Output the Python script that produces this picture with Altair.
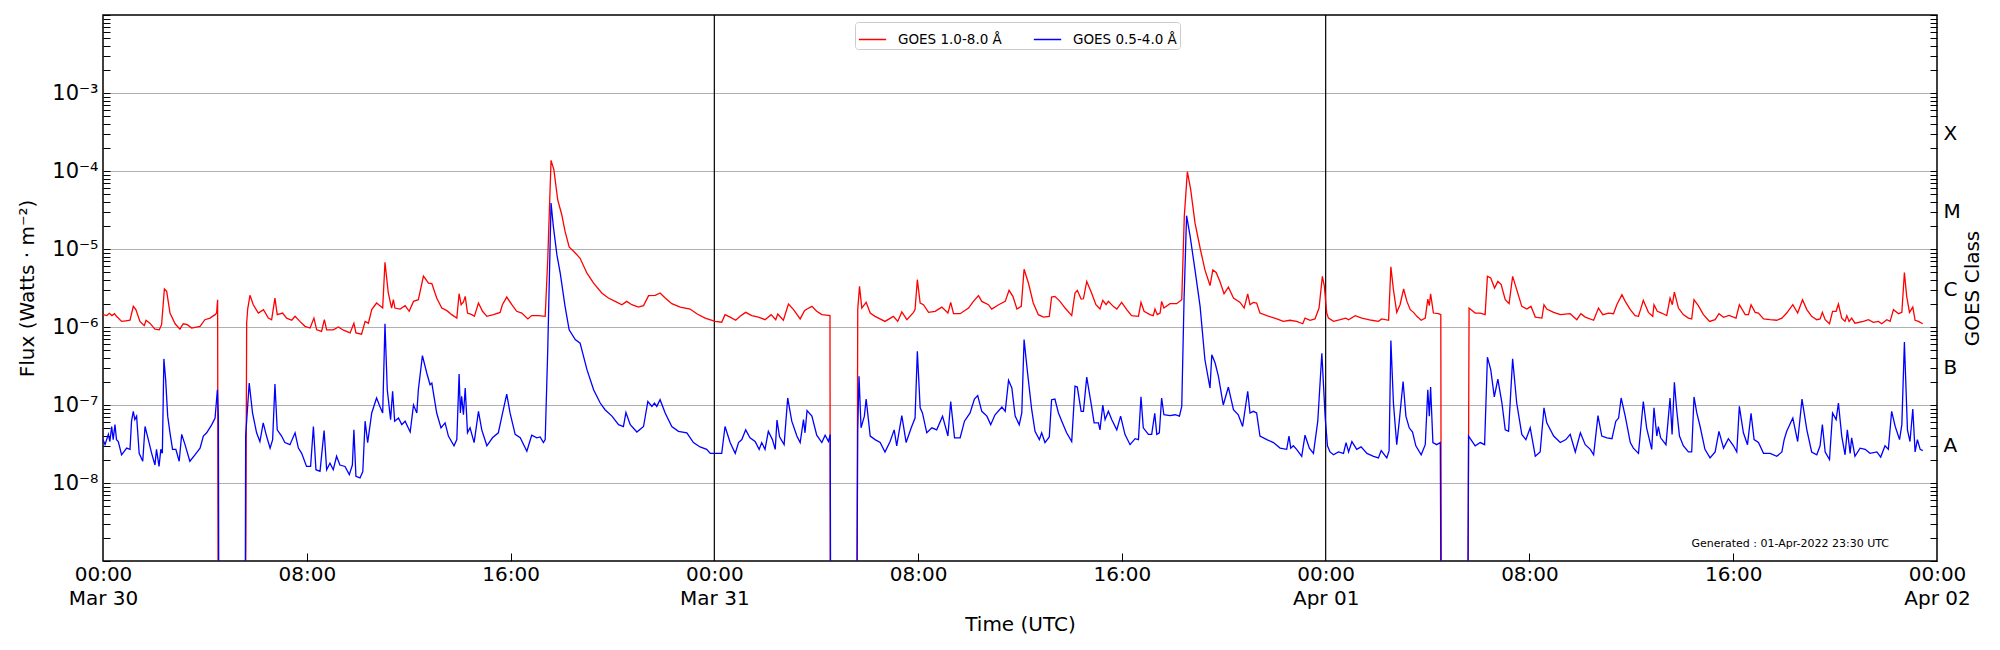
import json
import altair as alt
import pandas as pd

# ---------------- data (hours since 2022-03-30 00:00 UTC, flux W/m^2)
# 1e-12 marks the eclipse drop-outs that fall below the plotted range
red_readings = [
    (0.00, 1.44e-6), (0.15, 1.40e-6), (0.25, 1.50e-6), (0.35, 1.40e-6), (0.45, 1.48e-6),
    (0.53, 1.37e-6), (0.73, 1.18e-6), (0.90, 1.20e-6), (1.06, 1.22e-6), (1.19, 1.84e-6),
    (1.29, 1.67e-6), (1.45, 1.18e-6), (1.62, 1.04e-6), (1.69, 1.22e-6), (1.84, 1.12e-6),
    (2.04, 0.94e-6), (2.21, 0.92e-6), (2.30, 1.07e-6), (2.41, 3.07e-6), (2.50, 2.86e-6),
    (2.63, 1.51e-6), (2.83, 1.10e-6), (3.02, 0.94e-6), (3.15, 1.10e-6), (3.31, 1.07e-6),
    (3.48, 0.97e-6), (3.81, 1.02e-6), (4.00, 1.24e-6), (4.20, 1.30e-6), (4.40, 1.44e-6),
    (4.46, 1.51e-6), (4.50, 2.24e-6), (4.53, 1e-12), (5.57, 1e-12), (5.64, 1.12e-6),
    (5.68, 1.70e-6), (5.77, 2.55e-6), (5.90, 1.93e-6), (6.10, 1.51e-6), (6.30, 1.67e-6),
    (6.49, 1.30e-6), (6.62, 1.24e-6), (6.75, 2.35e-6), (6.84, 1.44e-6), (7.05, 1.51e-6),
    (7.21, 1.30e-6), (7.41, 1.22e-6), (7.54, 1.37e-6), (7.73, 1.18e-6), (7.93, 1.02e-6),
    (8.13, 0.97e-6), (8.28, 1.30e-6), (8.39, 0.92e-6), (8.58, 0.88e-6), (8.69, 1.24e-6),
    (8.78, 0.92e-6), (9.04, 0.92e-6), (9.24, 1.00e-6), (9.44, 0.91e-6), (9.70, 0.84e-6),
    (9.85, 1.12e-6), (9.93, 0.84e-6), (10.15, 0.81e-6), (10.29, 1.18e-6), (10.42, 1.12e-6),
    (10.55, 1.67e-6), (10.74, 2.03e-6), (10.98, 1.75e-6), (11.07, 6.75e-6), (11.20, 2.73e-6),
    (11.33, 1.75e-6), (11.40, 2.24e-6), (11.46, 1.75e-6), (11.66, 1.70e-6), (11.86, 1.88e-6),
    (12.02, 1.59e-6), (12.19, 2.13e-6), (12.38, 2.24e-6), (12.58, 4.50e-6), (12.78, 3.66e-6),
    (12.91, 3.60e-6), (13.10, 2.35e-6), (13.30, 1.75e-6), (13.50, 1.62e-6), (13.69, 1.44e-6),
    (13.89, 1.30e-6), (13.98, 2.67e-6), (14.06, 1.93e-6), (14.15, 2.10e-6), (14.22, 2.47e-6),
    (14.31, 1.51e-6), (14.48, 1.44e-6), (14.58, 1.37e-6), (14.74, 2.03e-6), (14.90, 1.59e-6),
    (15.07, 1.37e-6), (15.33, 1.44e-6), (15.59, 1.54e-6), (15.68, 1.93e-6), (15.85, 2.42e-6),
    (16.05, 1.93e-6), (16.24, 1.59e-6), (16.44, 1.51e-6), (16.68, 1.27e-6), (16.83, 1.40e-6),
    (17.10, 1.40e-6), (17.36, 1.37e-6), (17.46, 7.30e-6), (17.59, 1.37e-4), (17.70, 1.04e-4),
    (17.85, 4.30e-5), (18.01, 2.75e-5), (18.14, 1.68e-5), (18.30, 1.06e-5), (18.54, 8.90e-6),
    (18.73, 7.60e-6), (19.00, 4.90e-6), (19.26, 3.66e-6), (19.58, 2.73e-6), (19.84, 2.35e-6),
    (20.11, 2.13e-6), (20.37, 1.93e-6), (20.56, 2.13e-6), (20.76, 1.93e-6), (21.02, 1.80e-6),
    (21.22, 1.88e-6), (21.42, 2.52e-6), (21.68, 2.55e-6), (21.87, 2.73e-6), (22.07, 2.35e-6),
    (22.33, 1.99e-6), (22.66, 1.80e-6), (23.05, 1.70e-6), (23.31, 1.48e-6), (23.64, 1.30e-6),
    (24.03, 1.18e-6), (24.29, 1.15e-6), (24.42, 1.44e-6), (24.62, 1.34e-6), (24.84, 1.22e-6),
    (25.01, 1.37e-6), (25.23, 1.54e-6), (25.47, 1.40e-6), (25.73, 1.34e-6), (25.99, 1.24e-6),
    (26.23, 1.44e-6), (26.41, 1.24e-6), (26.49, 1.47e-6), (26.71, 1.22e-6), (26.91, 1.97e-6),
    (27.11, 1.67e-6), (27.37, 1.27e-6), (27.54, 1.62e-6), (27.64, 1.70e-6), (27.83, 1.84e-6),
    (28.02, 1.59e-6), (28.22, 1.44e-6), (28.48, 1.41e-6), (28.54, 1.40e-6), (28.56, 1e-12),
    (29.58, 1e-12), (29.63, 1.67e-6), (29.70, 3.32e-6), (29.79, 1.75e-6), (29.96, 2.07e-6),
    (30.12, 1.51e-6), (30.31, 1.37e-6), (30.70, 1.18e-6), (31.03, 1.37e-6), (31.20, 1.18e-6),
    (31.36, 1.56e-6), (31.56, 1.24e-6), (31.82, 1.54e-6), (31.88, 1.67e-6), (31.97, 4.04e-6),
    (32.08, 2.03e-6), (32.21, 1.93e-6), (32.41, 1.54e-6), (32.67, 1.59e-6), (32.93, 1.80e-6),
    (33.17, 1.51e-6), (33.28, 2.07e-6), (33.39, 1.48e-6), (33.65, 1.48e-6), (33.98, 1.75e-6),
    (34.17, 2.13e-6), (34.37, 2.52e-6), (34.50, 2.13e-6), (34.76, 1.93e-6), (34.89, 1.70e-6),
    (35.16, 1.93e-6), (35.42, 2.13e-6), (35.57, 2.95e-6), (35.72, 2.47e-6), (35.88, 1.70e-6),
    (36.05, 1.84e-6), (36.16, 5.50e-6), (36.33, 3.66e-6), (36.52, 2.03e-6), (36.72, 1.44e-6),
    (36.92, 1.34e-6), (37.15, 1.37e-6), (37.24, 2.42e-6), (37.37, 2.47e-6), (37.57, 2.13e-6),
    (37.77, 1.75e-6), (38.03, 1.40e-6), (38.16, 2.73e-6), (38.25, 2.95e-6), (38.40, 2.28e-6),
    (38.49, 2.30e-6), (38.62, 3.84e-6), (38.81, 2.73e-6), (38.98, 1.93e-6), (39.14, 1.70e-6),
    (39.25, 2.20e-6), (39.38, 1.93e-6), (39.47, 2.13e-6), (39.66, 1.84e-6), (39.80, 1.70e-6),
    (39.99, 2.07e-6), (40.19, 1.67e-6), (40.38, 1.40e-6), (40.65, 1.37e-6), (40.75, 2.07e-6),
    (40.87, 1.59e-6), (41.10, 1.44e-6), (41.23, 1.40e-6), (41.30, 1.70e-6), (41.39, 1.44e-6),
    (41.50, 1.51e-6), (41.56, 2.13e-6), (41.65, 1.75e-6), (41.89, 1.99e-6), (42.15, 1.99e-6),
    (42.35, 2.24e-6), (42.45, 2.62e-5), (42.57, 9.80e-5), (42.70, 5.80e-5), (42.87, 2.16e-5),
    (43.07, 1.03e-5), (43.26, 5.40e-6), (43.46, 3.40e-6), (43.57, 5.40e-6), (43.70, 5.00e-6),
    (43.85, 3.84e-6), (44.01, 2.67e-6), (44.18, 3.25e-6), (44.38, 2.35e-6), (44.64, 2.07e-6),
    (44.80, 1.75e-6), (44.94, 2.65e-6), (45.03, 1.93e-6), (45.16, 2.07e-6), (45.29, 2.03e-6),
    (45.42, 1.51e-6), (45.69, 1.40e-6), (46.08, 1.27e-6), (46.34, 1.18e-6), (46.60, 1.22e-6),
    (46.86, 1.18e-6), (47.10, 1.10e-6), (47.19, 1.30e-6), (47.39, 1.22e-6), (47.58, 1.27e-6),
    (47.74, 1.75e-6), (47.87, 4.46e-6), (47.95, 3.32e-6), (48.04, 1.51e-6), (48.11, 1.30e-6),
    (48.31, 1.18e-6), (48.57, 1.24e-6), (48.79, 1.30e-6), (48.90, 1.24e-6), (49.16, 1.40e-6),
    (49.42, 1.30e-6), (49.81, 1.22e-6), (50.07, 1.18e-6), (50.20, 1.27e-6), (50.47, 1.22e-6),
    (50.56, 5.90e-6), (50.66, 3.01e-6), (50.79, 1.54e-6), (50.92, 1.93e-6), (51.06, 3.07e-6),
    (51.19, 2.13e-6), (51.32, 1.67e-6), (51.45, 1.54e-6), (51.58, 1.37e-6), (51.75, 1.22e-6),
    (51.91, 1.30e-6), (52.01, 2.28e-6), (52.07, 1.88e-6), (52.12, 2.67e-6), (52.23, 1.51e-6),
    (52.43, 1.48e-6), (52.52, 1.44e-6), (52.55, 1e-12), (53.56, 1e-12), (53.63, 1.75e-6),
    (53.87, 1.51e-6), (54.07, 1.51e-6), (54.26, 1.44e-6), (54.35, 4.46e-6), (54.48, 4.25e-6),
    (54.63, 3.16e-6), (54.76, 3.84e-6), (54.89, 3.50e-6), (55.05, 2.24e-6), (55.20, 1.99e-6),
    (55.34, 4.46e-6), (55.50, 3.01e-6), (55.70, 1.84e-6), (55.90, 1.70e-6), (56.06, 1.84e-6),
    (56.23, 1.34e-6), (56.49, 1.30e-6), (56.57, 1.93e-6), (56.68, 1.70e-6), (56.95, 1.54e-6),
    (57.21, 1.44e-6), (57.60, 1.48e-6), (57.86, 1.24e-6), (58.02, 1.48e-6), (58.19, 1.34e-6),
    (58.52, 1.22e-6), (58.71, 1.75e-6), (58.88, 1.44e-6), (59.11, 1.51e-6), (59.30, 1.48e-6),
    (59.43, 1.93e-6), (59.63, 2.60e-6), (59.76, 2.13e-6), (59.96, 1.67e-6), (60.15, 1.40e-6),
    (60.28, 1.37e-6), (60.47, 2.20e-6), (60.67, 1.54e-6), (60.84, 1.37e-6), (60.89, 1.93e-6),
    (61.02, 1.59e-6), (61.19, 1.51e-6), (61.39, 1.40e-6), (61.52, 2.35e-6), (61.61, 1.93e-6),
    (61.69, 2.80e-6), (61.85, 1.75e-6), (62.04, 1.44e-6), (62.24, 1.30e-6), (62.37, 1.27e-6),
    (62.46, 2.24e-6), (62.63, 1.88e-6), (62.83, 1.44e-6), (63.07, 1.18e-6), (63.29, 1.24e-6),
    (63.44, 1.48e-6), (63.62, 1.33e-6), (63.84, 1.41e-6), (64.11, 1.30e-6), (64.24, 1.93e-6),
    (64.47, 1.44e-6), (64.60, 1.44e-6), (64.70, 1.93e-6), (64.86, 1.54e-6), (64.99, 1.51e-6),
    (65.19, 1.27e-6), (65.45, 1.24e-6), (65.71, 1.22e-6), (65.91, 1.30e-6), (66.10, 1.51e-6),
    (66.34, 1.93e-6), (66.53, 1.51e-6), (66.72, 2.24e-6), (66.89, 1.67e-6), (67.08, 1.37e-6),
    (67.28, 1.24e-6), (67.41, 1.27e-6), (67.50, 1.54e-6), (67.61, 1.24e-6), (67.78, 1.10e-6),
    (67.90, 1.59e-6), (68.04, 1.59e-6), (68.13, 1.97e-6), (68.26, 1.30e-6), (68.39, 1.18e-6),
    (68.46, 1.40e-6), (68.55, 1.18e-6), (68.65, 1.30e-6), (68.78, 1.12e-6), (69.11, 1.18e-6),
    (69.31, 1.24e-6), (69.50, 1.15e-6), (69.70, 1.18e-6), (69.83, 1.10e-6), (70.03, 1.24e-6),
    (70.16, 1.18e-6), (70.29, 1.67e-6), (70.49, 1.48e-6), (70.62, 1.54e-6), (70.72, 5.00e-6),
    (70.81, 2.47e-6), (70.92, 1.54e-6), (71.05, 1.80e-6), (71.14, 1.22e-6), (71.27, 1.18e-6),
    (71.44, 1.10e-6),
]

blue_readings = [
    (0.00, 3.6e-8), (0.08, 3.1e-8), (0.21, 4.2e-8), (0.27, 3.4e-8), (0.34, 5.3e-8),
    (0.40, 3.6e-8), (0.47, 5.6e-8), (0.53, 3.6e-8), (0.60, 3.4e-8), (0.73, 2.3e-8),
    (0.93, 2.8e-8), (1.06, 2.7e-8), (1.12, 6.2e-8), (1.19, 8.3e-8), (1.25, 6.5e-8),
    (1.32, 7.2e-8), (1.42, 2.4e-8), (1.56, 1.9e-8), (1.65, 5.3e-8), (1.78, 3.6e-8),
    (1.91, 2.4e-8), (2.04, 1.7e-8), (2.10, 2.7e-8), (2.20, 1.63e-8), (2.27, 2.7e-8),
    (2.33, 2.4e-8), (2.39, 3.9e-7), (2.46, 2.1e-7), (2.54, 7.2e-8), (2.63, 4.4e-8),
    (2.73, 2.7e-8), (2.86, 2.7e-8), (2.99, 1.9e-8), (3.09, 4.2e-8), (3.22, 3.1e-8),
    (3.41, 1.9e-8), (3.61, 2.3e-8), (3.81, 2.8e-8), (3.94, 4.0e-8), (4.07, 4.4e-8),
    (4.27, 5.6e-8), (4.40, 6.8e-8), (4.49, 1.57e-7), (4.53, 7.2e-8), (4.56, 1e-12),
    (5.57, 1e-12), (5.60, 4.0e-8), (5.74, 1.91e-7), (5.87, 7.9e-8), (6.03, 4.4e-8),
    (6.16, 3.4e-8), (6.29, 5.9e-8), (6.42, 4.0e-8), (6.56, 2.8e-8), (6.66, 3.6e-8),
    (6.75, 1.86e-7), (6.84, 4.8e-8), (7.01, 4.0e-8), (7.14, 3.3e-8), (7.34, 3.1e-8),
    (7.54, 4.4e-8), (7.67, 2.8e-8), (7.80, 2.4e-8), (7.99, 1.63e-8), (8.15, 1.63e-8),
    (8.26, 5.3e-8), (8.36, 1.48e-8), (8.52, 1.41e-8), (8.68, 4.7e-8), (8.78, 1.48e-8),
    (8.91, 1.8e-8), (9.04, 1.48e-8), (9.17, 2.2e-8), (9.30, 1.7e-8), (9.50, 1.63e-8),
    (9.67, 1.28e-8), (9.79, 1.7e-8), (9.85, 4.8e-8), (9.93, 1.22e-8), (10.09, 1.16e-8),
    (10.20, 1.4e-8), (10.29, 6.2e-8), (10.39, 3.3e-8), (10.55, 7.9e-8), (10.74, 1.23e-7),
    (10.87, 9.6e-8), (10.98, 7.9e-8), (11.07, 1.1e-6), (11.16, 1.57e-7), (11.29, 6.5e-8),
    (11.37, 1.5e-7), (11.45, 6.2e-8), (11.60, 6.8e-8), (11.73, 5.6e-8), (11.86, 6.2e-8),
    (12.06, 4.5e-8), (12.19, 1.0e-7), (12.32, 7.9e-8), (12.38, 1.57e-7), (12.54, 4.3e-7),
    (12.71, 2.57e-7), (12.84, 1.82e-7), (12.91, 1.91e-7), (13.10, 7.9e-8), (13.27, 5.1e-8),
    (13.43, 5.9e-8), (13.56, 4.0e-8), (13.78, 3.0e-8), (13.89, 3.6e-8), (13.98, 2.5e-7),
    (14.03, 7.9e-8), (14.08, 1.29e-7), (14.15, 7.5e-8), (14.22, 1.65e-7), (14.31, 4.4e-8),
    (14.41, 5.1e-8), (14.57, 3.3e-8), (14.74, 8.3e-8), (14.87, 4.8e-8), (15.07, 3.0e-8),
    (15.29, 3.8e-8), (15.52, 4.4e-8), (15.66, 7.2e-8), (15.85, 1.38e-7), (15.98, 7.9e-8),
    (16.18, 4.2e-8), (16.38, 3.8e-8), (16.64, 2.55e-8), (16.83, 4.1e-8), (17.03, 3.8e-8),
    (17.16, 3.9e-8), (17.29, 3.3e-8), (17.36, 3.6e-8), (17.46, 5.1e-7), (17.59, 3.89e-5),
    (17.68, 1.95e-5), (17.82, 8.4e-6), (17.95, 4.9e-6), (18.14, 1.84e-6), (18.30, 9.2e-7),
    (18.54, 6.9e-7), (18.73, 6.2e-7), (19.00, 2.84e-7), (19.26, 1.57e-7), (19.52, 1.06e-7),
    (19.71, 8.7e-8), (19.98, 7.2e-8), (20.24, 5.6e-8), (20.43, 5.3e-8), (20.53, 8.0e-8),
    (20.70, 5.6e-8), (20.96, 4.5e-8), (21.22, 5.3e-8), (21.39, 1.11e-7), (21.55, 9.6e-8),
    (21.65, 1.06e-7), (21.74, 9.6e-8), (21.87, 1.17e-7), (22.07, 7.9e-8), (22.33, 5.3e-8),
    (22.59, 4.6e-8), (22.92, 4.4e-8), (23.18, 3.3e-8), (23.44, 2.9e-8), (23.70, 2.7e-8),
    (23.84, 2.4e-8), (24.03, 2.4e-8), (24.29, 2.4e-8), (24.42, 5.3e-8), (24.62, 3.3e-8),
    (24.82, 2.4e-8), (24.95, 3.3e-8), (25.08, 3.6e-8), (25.23, 4.8e-8), (25.40, 3.8e-8),
    (25.60, 3.4e-8), (25.76, 2.7e-8), (25.86, 3.3e-8), (25.99, 2.7e-8), (26.12, 4.6e-8),
    (26.28, 3.6e-8), (26.39, 2.7e-8), (26.46, 6.4e-8), (26.56, 3.9e-8), (26.74, 3.1e-8),
    (26.88, 1.23e-7), (27.04, 6.2e-8), (27.24, 4.0e-8), (27.37, 3.3e-8), (27.50, 6.5e-8),
    (27.56, 4.4e-8), (27.64, 8.5e-8), (27.83, 7.2e-8), (28.02, 4.1e-8), (28.22, 3.3e-8),
    (28.35, 4.1e-8), (28.48, 3.4e-8), (28.55, 4.2e-8), (28.58, 1e-12), (29.56, 1e-12),
    (29.63, 4.9e-8), (29.68, 2.33e-7), (29.76, 5.1e-8), (29.89, 7.2e-8), (29.96, 1.19e-7),
    (30.12, 4.0e-8), (30.31, 3.6e-8), (30.51, 3.3e-8), (30.70, 2.5e-8), (30.90, 3.4e-8),
    (31.06, 4.8e-8), (31.16, 3.0e-8), (31.36, 7.3e-8), (31.53, 3.3e-8), (31.73, 5.1e-8),
    (31.88, 6.8e-8), (31.97, 4.9e-7), (32.08, 9.2e-8), (32.17, 7.9e-8), (32.34, 4.4e-8),
    (32.54, 5.1e-8), (32.73, 4.8e-8), (32.96, 7.2e-8), (33.17, 4.0e-8), (33.28, 1.11e-7),
    (33.43, 3.8e-8), (33.65, 3.8e-8), (33.82, 6.2e-8), (34.04, 7.9e-8), (34.21, 1.19e-7),
    (34.34, 1.32e-7), (34.50, 8.3e-8), (34.70, 7.2e-8), (34.85, 5.6e-8), (35.02, 7.5e-8),
    (35.29, 9.4e-8), (35.42, 8.3e-8), (35.55, 2.07e-7), (35.68, 1.65e-7), (35.81, 7.2e-8),
    (35.97, 5.6e-8), (36.07, 7.9e-8), (36.16, 6.9e-7), (36.29, 2.7e-7), (36.46, 8.7e-8),
    (36.59, 4.6e-8), (36.76, 3.6e-8), (36.85, 4.4e-8), (36.98, 3.3e-8), (37.15, 3.9e-8),
    (37.24, 1.17e-7), (37.37, 1.19e-7), (37.51, 7.9e-8), (37.64, 6.2e-8), (37.83, 4.4e-8),
    (38.03, 3.4e-8), (38.16, 1.74e-7), (38.25, 1.7e-7), (38.40, 8.3e-8), (38.49, 8.3e-8),
    (38.62, 2.28e-7), (38.81, 9.6e-8), (38.91, 5.9e-8), (39.08, 5.9e-8), (39.14, 4.8e-8),
    (39.25, 1.0e-7), (39.34, 6.5e-8), (39.47, 8.3e-8), (39.60, 6.5e-8), (39.80, 4.8e-8),
    (39.95, 7.2e-8), (40.12, 4.2e-8), (40.32, 3.1e-8), (40.52, 3.7e-8), (40.65, 3.6e-8),
    (40.75, 1.27e-7), (40.84, 5.1e-8), (41.04, 4.2e-8), (41.17, 4.2e-8), (41.29, 7.8e-8),
    (41.37, 4.2e-8), (41.47, 4.4e-8), (41.56, 1.23e-7), (41.65, 7.5e-8), (41.89, 7.3e-8),
    (42.09, 7.5e-8), (42.26, 7.2e-8), (42.35, 9.6e-8), (42.44, 2.24e-6), (42.54, 2.67e-5),
    (42.68, 1.45e-5), (42.87, 5.4e-6), (43.07, 1.84e-6), (43.26, 3.8e-7), (43.46, 1.65e-7),
    (43.53, 4.4e-7), (43.66, 3.45e-7), (43.79, 2.33e-7), (43.98, 1.0e-7), (44.18, 1.7e-7),
    (44.38, 8.7e-8), (44.57, 7.5e-8), (44.74, 5.3e-8), (44.94, 1.5e-7), (45.03, 7.9e-8),
    (45.16, 8.3e-8), (45.29, 7.9e-8), (45.42, 4.0e-8), (45.69, 3.6e-8), (45.95, 3.3e-8),
    (46.21, 2.8e-8), (46.47, 2.7e-8), (46.56, 4.0e-8), (46.63, 2.8e-8), (46.73, 3.0e-8),
    (46.86, 2.7e-8), (47.06, 2.2e-8), (47.19, 4.1e-8), (47.36, 2.8e-8), (47.52, 2.4e-8),
    (47.69, 6.2e-8), (47.85, 4.6e-7), (47.98, 7.0e-8), (48.07, 3.0e-8), (48.17, 2.5e-8),
    (48.31, 2.3e-8), (48.50, 2.5e-8), (48.70, 2.4e-8), (48.80, 3.3e-8), (48.90, 2.5e-8),
    (49.03, 3.4e-8), (49.22, 2.7e-8), (49.39, 2.9e-8), (49.62, 2.4e-8), (49.88, 2.2e-8),
    (50.07, 2.1e-8), (50.18, 2.6e-8), (50.40, 2.1e-8), (50.49, 2.6e-8), (50.56, 6.7e-7),
    (50.66, 1.06e-7), (50.79, 3.1e-8), (50.89, 6.2e-8), (51.04, 2.0e-7), (51.15, 7.2e-8),
    (51.28, 5.1e-8), (51.41, 4.5e-8), (51.54, 3.0e-8), (51.75, 2.3e-8), (51.91, 3.1e-8),
    (52.01, 1.57e-7), (52.07, 7.2e-8), (52.12, 1.7e-7), (52.21, 3.3e-8), (52.36, 3.1e-8),
    (52.50, 3.3e-8), (52.56, 1e-12), (53.55, 1e-12), (53.61, 4.0e-8), (53.87, 3.0e-8),
    (54.07, 3.3e-8), (54.24, 3.1e-8), (54.35, 4.1e-7), (54.48, 2.84e-7), (54.62, 1.27e-7),
    (54.76, 2.15e-7), (54.92, 1.06e-7), (55.05, 4.8e-8), (55.18, 4.6e-8), (55.34, 3.9e-7),
    (55.50, 1.06e-7), (55.70, 4.2e-8), (55.86, 3.6e-8), (56.03, 5.1e-8), (56.23, 2.2e-8),
    (56.42, 2.5e-8), (56.57, 9.2e-8), (56.68, 5.9e-8), (56.95, 4.0e-8), (57.21, 3.3e-8),
    (57.43, 3.6e-8), (57.60, 4.2e-8), (57.80, 2.5e-8), (58.00, 4.4e-8), (58.19, 3.1e-8),
    (58.39, 2.7e-8), (58.52, 2.3e-8), (58.69, 7.3e-8), (58.84, 4.0e-8), (59.04, 3.8e-8),
    (59.24, 3.7e-8), (59.39, 6.2e-8), (59.50, 6.8e-8), (59.60, 1.23e-7), (59.76, 7.2e-8),
    (59.96, 3.3e-8), (60.08, 2.8e-8), (60.28, 2.4e-8), (60.47, 1.11e-7), (60.60, 5.1e-8),
    (60.80, 2.7e-8), (60.89, 9.2e-8), (61.00, 4.0e-8), (61.06, 5.3e-8), (61.15, 3.8e-8),
    (61.36, 3.1e-8), (61.52, 1.23e-7), (61.60, 4.2e-8), (61.69, 1.95e-7), (61.78, 8.7e-8),
    (61.89, 4.0e-8), (62.04, 3.0e-8), (62.24, 2.5e-8), (62.37, 2.5e-8), (62.46, 1.27e-7),
    (62.57, 7.9e-8), (62.70, 5.3e-8), (62.89, 2.7e-8), (63.09, 2.1e-8), (63.29, 2.5e-8),
    (63.44, 4.6e-8), (63.62, 2.8e-8), (63.81, 3.7e-8), (64.01, 3.0e-8), (64.14, 2.5e-8),
    (64.24, 9.6e-8), (64.40, 4.4e-8), (64.56, 3.1e-8), (64.70, 7.8e-8), (64.82, 3.6e-8),
    (64.99, 3.3e-8), (65.19, 2.4e-8), (65.45, 2.4e-8), (65.71, 2.2e-8), (65.91, 2.5e-8),
    (66.00, 3.6e-8), (66.10, 4.6e-8), (66.34, 6.8e-8), (66.53, 3.4e-8), (66.70, 1.19e-7),
    (66.89, 4.8e-8), (67.08, 2.5e-8), (67.28, 2.3e-8), (67.41, 3.0e-8), (67.50, 5.6e-8),
    (67.61, 2.5e-8), (67.78, 2.0e-8), (67.90, 7.9e-8), (68.04, 6.5e-8), (68.13, 1.06e-7),
    (68.26, 4.0e-8), (68.39, 2.3e-8), (68.48, 4.8e-8), (68.59, 2.4e-8), (68.65, 3.8e-8),
    (68.78, 2.2e-8), (68.98, 2.8e-8), (69.18, 2.7e-8), (69.37, 2.4e-8), (69.64, 2.5e-8),
    (69.79, 2.15e-8), (69.96, 3.0e-8), (70.09, 2.7e-8), (70.22, 8.3e-8), (70.36, 5.3e-8),
    (70.53, 3.6e-8), (70.62, 5.6e-8), (70.72, 6.4e-7), (70.84, 4.8e-8), (70.94, 3.4e-8),
    (71.05, 8.9e-8), (71.14, 2.5e-8), (71.23, 3.6e-8), (71.34, 2.7e-8), (71.44, 2.6e-8),
]

series_names = ["GOES 1.0-8.0 Å", "GOES 0.5-4.0 Å"]
series_colors = ["#ff0000", "#0000ff"]
day_boundaries = [24, 48]
x_tick_hours = [0, 8, 16, 24, 32, 40, 48, 56, 64, 72]
x_tick_labels = [["00:00", "Mar 30"], "08:00", "16:00", ["00:00", "Mar 31"], "08:00", "16:00",
                 ["00:00", "Apr 01"], "08:00", "16:00", ["00:00", "Apr 02"]]
x_inner_ticks = [8, 16, 32, 40, 56, 64]
y_major = [1e-8, 1e-7, 1e-6, 1e-5, 1e-4, 1e-3]
y_major_labels = ["10⁻⁸", "10⁻⁷", "10⁻⁶", "10⁻⁵", "10⁻⁴", "10⁻³"]
class_values = [3e-8, 3e-7, 3e-6, 3e-5, 3e-4]
class_labels = ["A", "B", "C", "M", "X"]
y_log_ticks = [m * 10.0 ** k for k in range(-9, -2) for m in range(1, 10)] + [1e-2]
generated_text = ["Generated : 01-Apr-2022 23:30 UTC"]

W, H = 1834, 546
FONT = "DejaVu Sans"


def js(v):
    return json.dumps(v, ensure_ascii=False)


def ladder(values, labels, factor):
    expr = "''"
    for v, lab in reversed(list(zip(values, labels))):
        expr = f"datum.value < {v * factor} ? {js(lab)} : ({expr})"
    return expr


x_expr = "''"
for h, lab in reversed(list(zip(x_tick_hours, x_tick_labels))):
    x_expr = f"datum.value == {h} ? {js(lab)} : ({x_expr})"

red_df = pd.DataFrame(red_readings, columns=["t", "flux"])
red_df["series"] = series_names[0]
blue_df = pd.DataFrame(blue_readings, columns=["t", "flux"])
blue_df["series"] = series_names[1]
days_df = pd.DataFrame({"t": day_boundaries})
ticks_df = pd.DataFrame({"v": y_log_ticks})
text_df = pd.DataFrame({"label": generated_text})

xscale = alt.Scale(domain=[0, 72], nice=False, zero=False)
yscale = alt.Scale(type="log", domain=[1e-9, 1e-2], nice=False)
cscale = alt.Scale(domain=series_names, range=series_colors)

legend = alt.Legend(
    title=None, orient="none", legendX=752, legendY=7, direction="horizontal",
    symbolType="stroke", symbolStrokeWidth=1.5, symbolSize=750,
    labelFont=FONT, labelFontSize=13.5, labelColor="black", labelOffset=11,
    fillColor="white", strokeColor="#cccccc", padding=3, cornerRadius=3,
    columnPadding=28, labelLimit=300,
)

ax_bottom = alt.Axis(
    values=x_tick_hours, labelExpr=x_expr, ticks=False, domain=False, grid=False,
    labelFontSize=20, labelPadding=3, labelLineHeight=24, labelFlush=False,
    labelOverlap=False, labelBound=False,
    title="Time (UTC)", titleFontSize=20, titleX=W / 2, titleY=63,
    titleBaseline="middle", titleAlign="center",
)
ax_left = alt.Axis(
    orient="left", values=y_major, labelExpr=ladder(y_major, y_major_labels, 3),
    ticks=False, domain=False, grid=True, gridColor="#b0b0b0", gridWidth=1,
    labelFontSize=21, labelPadding=5, labelBaseline="middle",
    title="Flux (Watts · m⁻²)", titleFontSize=20, titleAngle=270,
    titleX=-76, titleY=H / 2, titleBaseline="middle", titleAlign="center",
)
ax_right = alt.Axis(
    orient="right", values=class_values, labelExpr=ladder(class_values, class_labels, 3),
    ticks=False, domain=False, grid=False, labelFontSize=20, labelPadding=6,
    labelBaseline="middle",
    title="GOES Class", titleFontSize=20, titleAngle=270,
    titleX=35, titleY=H / 2, titleBaseline="middle", titleAlign="center",
)
ax_ticks_leftedge = alt.Axis(
    orient="right", offset=-W, values=y_log_ticks, labels=False, domain=False,
    grid=False, ticks=True, tickSize=7, tickColor="black", tickWidth=1, title=None,
)
ax_ticks_rightedge = alt.Axis(
    orient="left", offset=-W, values=y_log_ticks, labels=False, domain=False,
    grid=False, ticks=True, tickSize=7, tickColor="black", tickWidth=1, title=None,
)
ax_ticks_bottom = alt.Axis(
    orient="top", offset=-H, values=x_inner_ticks, labels=False, domain=False,
    grid=False, ticks=True, tickSize=8, tickColor="black", tickWidth=1, title=None,
)

rules = alt.Chart(days_df).mark_rule(color="black", strokeWidth=1.2).encode(
    x=alt.X("t:Q", scale=xscale, axis=ax_ticks_bottom)
)
tick_left = alt.Chart(ticks_df).mark_point(opacity=0).encode(
    y=alt.Y("v:Q", scale=yscale, axis=ax_ticks_leftedge)
)
tick_right = alt.Chart(ticks_df).mark_point(opacity=0).encode(
    y=alt.Y("v:Q", scale=yscale, axis=ax_ticks_rightedge)
)
red_line = alt.Chart(red_df).mark_line(strokeWidth=1.3, clip=True).encode(
    x=alt.X("t:Q", scale=xscale, axis=ax_bottom),
    y=alt.Y("flux:Q", scale=yscale, axis=ax_left),
    color=alt.Color("series:N", scale=cscale, legend=legend),
    order=alt.Order("t:Q"),
)
blue_line = alt.Chart(blue_df).mark_line(strokeWidth=1.3, clip=True).encode(
    x=alt.X("t:Q", scale=xscale, axis=None),
    y=alt.Y("flux:Q", scale=yscale, axis=ax_right),
    color=alt.Color("series:N", scale=cscale, legend=legend),
    order=alt.Order("t:Q"),
)
note = alt.Chart(text_df).mark_text(
    font=FONT, fontSize=11, color="black", align="right", baseline="middle"
).encode(x=alt.value(1786), y=alt.value(529), text="label:N")

chart = (
    alt.layer(tick_left, tick_right, rules, red_line, blue_line, note)
    .resolve_axis(x="independent", y="independent")
    .properties(
        width=W, height=H,
        autosize=alt.AutoSizeParams(type="none"),
        padding={"left": 95, "top": 7, "right": 55, "bottom": 81},
        background="white",
    )
    .configure(font=FONT)
    .configure_view(stroke="black", strokeWidth=1.5)
    .configure_axis(labelFont=FONT, titleFont=FONT, labelColor="black",
                    titleColor="black", titleFontWeight="normal")
)

chart.save("out.html", embed_options={"renderer": "svg", "actions": False})
